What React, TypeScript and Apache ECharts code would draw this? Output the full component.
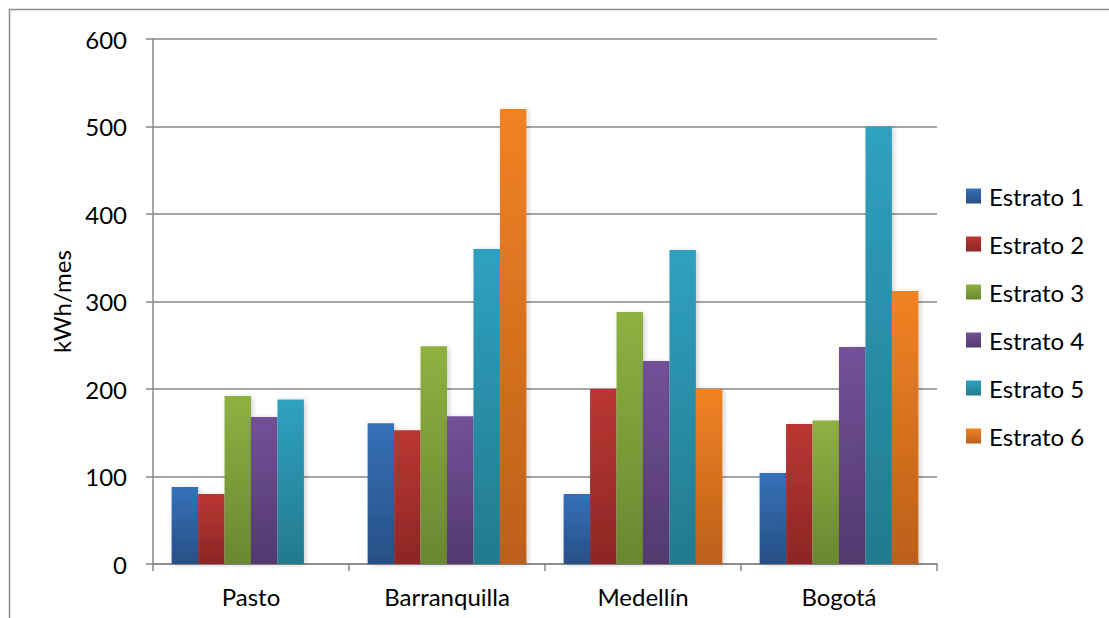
import React, { useEffect, useRef } from "react";
import * as echarts from "echarts";

const categories = ["Pasto", "Barranquilla", "Medellín", "Bogotá"];
const seriesNames = ["Estrato 1", "Estrato 2", "Estrato 3", "Estrato 4", "Estrato 5", "Estrato 6"];
const estrato1 = [88, 161, 80, 104];
const estrato2 = [80, 153, 200, 160];
const estrato3 = [192, 249, 288, 164];
const estrato4 = [168, 169, 232, 248];
const estrato5 = [188, 360, 359, 500];
const estrato6 = [null, 520, 200, 312];
const seriesValues = [estrato1, estrato2, estrato3, estrato4, estrato5, estrato6];
const yTicks = { min: 0, max: 600, interval: 100 };

const gradients: [string, string][] = [
  ["#3571B8", "#284F86"],
  ["#BB3633", "#8C2725"],
  ["#8EB141", "#6A8731"],
  ["#72519A", "#52396E"],
  ["#2FA1C1", "#237A8E"],
  ["#F28224", "#BB601A"],
];

const FONT = "Lato, 'Open Sans', sans-serif";

export default function App() {
  const ref = useRef<HTMLDivElement>(null);
  useEffect(() => {
    if (!ref.current) return;
    const chart = echarts.init(ref.current, undefined, { renderer: "svg" });
    chart.setOption({
      animation: false,
      backgroundColor: "#ffffff",
      textStyle: { fontFamily: FONT },
      graphic: [
        {
          type: "rect",
          shape: { x: 9.5, y: 9.5, width: 1300, height: 1000 },
          style: { fill: "none", stroke: "#8a8a8a", lineWidth: 1.5 },
          silent: true,
        },
      ],
      grid: { left: 153, right: 172, top: 39, bottom: 54 },
      legend: {
        orient: "vertical",
        left: 966,
        top: 184,
        padding: 0,
        itemWidth: 15,
        itemHeight: 15,
        itemGap: 24,
        icon: "rect",
        textStyle: { fontFamily: FONT, fontSize: 24, color: "#000", lineHeight: 24, padding: [0, 0, 0, 3] },
        data: seriesNames,
      },
      xAxis: {
        type: "category",
        data: categories,
        axisLine: { lineStyle: { color: "#878787", width: 1.5 } },
        axisTick: { show: true, length: 7, alignWithLabel: false, lineStyle: { color: "#878787", width: 1.5 } },
        axisLabel: { fontFamily: FONT, fontSize: 24, color: "#000", margin: 20 },
      },
      yAxis: {
        type: "value",
        min: yTicks.min,
        max: yTicks.max,
        interval: yTicks.interval,
        name: "kWh/mes",
        nameLocation: "middle",
        nameRotate: 90,
        nameGap: 80,
        nameTextStyle: { fontFamily: FONT, fontSize: 24, color: "#000" },
        axisLine: { show: true, lineStyle: { color: "#878787", width: 1.5 } },
        axisTick: { show: true, length: 7, lineStyle: { color: "#878787", width: 1.5 } },
        axisLabel: { fontFamily: FONT, fontSize: 24, color: "#000", margin: 26 },
        splitLine: { show: true, lineStyle: { color: "#878787", width: 1.5 } },
      },
      series: seriesValues.map((vals, i) => ({
        name: seriesNames[i],
        type: "bar",
        data: vals,
        barGap: "0%",
        barCategoryGap: "19%",
        itemStyle: {
          color: new echarts.graphic.LinearGradient(0, 0, 0, 1, [
            { offset: 0, color: gradients[i][0] },
            { offset: 1, color: gradients[i][1] },
          ]),
          shadowColor: "rgba(0,0,0,0.18)",
          shadowBlur: 5,
          shadowOffsetX: 2,
          shadowOffsetY: 1,
        },
      })),
    });
    return () => chart.dispose();
  }, []);
  return (
    <div
      ref={ref}
      style={{ position: "absolute", left: 0, top: 0, width: 1109, height: 618 }}
    />
  );
}
